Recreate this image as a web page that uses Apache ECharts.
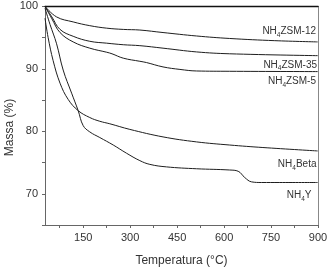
<!DOCTYPE html>
<html>
<head>
<meta charset="utf-8">
<script src="https://cdn.jsdelivr.net/npm/echarts@6/dist/echarts.min.js"></script>
<style>html,body{margin:0;padding:0;background:#fff}#c{width:332px;height:272px}</style>
</head>
<body>
<div id="c"></div>
<script>
// ---- data (temperature °C, mass %) ----
var zsm12T = [28, 65, 118, 171, 225, 278, 331, 405, 512, 618, 762, 899];
var zsm12V = [100, 98.3, 97.5, 96.9, 96.5, 96.3, 96.2, 95.8, 95.25, 94.85, 94.5, 94.3];
var zsm35T = [28, 50, 76, 118, 171, 225, 278, 331, 405, 512, 618, 899];
var zsm35V = [100, 98.3, 96.3, 95.2, 94.4, 94.1, 93.85, 93.7, 93.3, 92.7, 92.4, 92.1];
var zsm5T = [28, 50, 76, 118, 171, 225, 242, 278, 331, 352, 405, 459, 512, 618, 899];
var zsm5V = [100, 98.0, 95.8, 94.3, 93.3, 92.65, 92.4, 91.7, 91.2, 91.0, 90.3, 89.9, 89.65, 89.6, 89.55];
var betaT = [28, 38, 54, 76, 102, 134, 171, 203, 235, 299, 405, 512, 618, 724, 899];
var betaV = [98.1, 95.0, 91.3, 87.7, 85.1, 83.3, 82.2, 81.6, 81.2, 80.3, 79.1, 78.3, 77.8, 77.4, 76.85];
var yT = [28, 44, 65, 86, 113, 134, 150, 171, 203, 246, 288, 331, 363, 416, 512, 618, 645, 666, 688, 720, 778, 899];
var yV = [99.7, 97.1, 94.0, 89.8, 86.1, 83.3, 80.9, 79.9, 79.0, 77.8, 76.5, 75.3, 74.7, 74.3, 74.0, 73.8, 73.6, 72.6, 71.9, 71.8, 71.8, 71.8];
var xLabelValues = [150, 300, 450, 600, 750, 900];
var xTickValues = [75, 150, 225, 300, 375, 450, 525, 600, 675, 750, 825, 900];
var seriesNames = ['NH4ZSM-12', 'NH4ZSM-35', 'NH4ZSM-5', 'NH4Beta', 'NH4Y'];
var labelParts = [['NH', '4', 'ZSM-12'], ['NH', '4', 'ZSM-35'], ['NH', '4', 'ZSM-5'], ['NH', '4', 'Beta'], ['NH', '4', 'Y']];

function zip(t, v) { return t.map(function (x, i) { return [x, v[i]]; }); }
var allT = [zsm12T, zsm35T, zsm5T, betaT, yT];
var allV = [zsm12V, zsm35V, zsm5V, betaV, yV];

var font = '"Liberation Sans", Arial, sans-serif';
var chart = echarts.init(document.getElementById('c'), null, {renderer: 'canvas'});

var series = seriesNames.map(function (n, i) {
  return {
    name: n, type: 'line', data: zip(allT[i], allV[i]),
    showSymbol: false, smooth: 0.4,
    lineStyle: {color: '#1e1e1e', width: 1}, silent: true, animation: false
  };
});

// label positions (pixel) for annotation texts
var labelPos = [[316, 31.5], [317, 65], [316, 81.5], [316.5, 164.5], [311.5, 195.5]];
var graphics = labelParts.map(function (p, i) {
  return {
    type: 'text', x: labelPos[i][0], y: labelPos[i][1], silent: true,
    style: {
      text: '{n|' + p[0] + '}{s|' + p[1] + '}{n|' + p[2] + '}',
      align: 'right', verticalAlign: 'middle',
      rich: {
        n: {fontSize: 10, fontFamily: font, fill: '#333', lineHeight: 12},
        s: {fontSize: 6.5, fontFamily: font, fill: '#333', lineHeight: 12, padding: [7, 0, 0, 0]}
      }
    }
  };
});
graphics.push({
  type: 'text', x: 10, y: 127.5, rotation: Math.PI / 2, silent: true,
  style: {text: 'Massa (%)', fontSize: 12, fontFamily: font, fill: '#333', align: 'center', verticalAlign: 'middle'}
});

chart.setOption({
  animation: false,
  grid: {left: 45, right: 14, top: 6.3, bottom: 42.3, containLabel: false},
  xAxis: [{
    type: 'value', min: 28, max: 900,
    name: 'Temperatura (°C)', nameLocation: 'middle', nameGap: 30,
    nameTextStyle: {fontSize: 12, fontFamily: font, color: '#333'},
    axisLine: {show: true, lineStyle: {color: '#666', width: 1}},
    axisTick: {show: true, length: 3, inside: false, customValues: xTickValues, lineStyle: {color: '#666'}},
    axisLabel: {customValues: xLabelValues, fontSize: 11, fontFamily: font, color: '#333', margin: 7},
    splitLine: {show: false}
  }, {
    type: 'value', min: 28, max: 900, position: 'top',
    axisLine: {show: true, onZero: false, lineStyle: {color: '#111', width: 1.3}},
    axisTick: {show: false}, axisLabel: {show: false}, splitLine: {show: false}
  }],
  yAxis: [{
    type: 'value', min: 65, max: 100, interval: 5,
    axisLine: {show: true, lineStyle: {color: '#666', width: 1}},
    axisTick: {show: true, length: 3, lineStyle: {color: '#666'}},
    axisLabel: {fontSize: 11, fontFamily: font, color: '#333', margin: 7,
      formatter: function (v) { return v % 10 === 0 ? String(v) : ''; }},
    splitLine: {show: false}
  }, {
    type: 'value', min: 65, max: 100, position: 'right',
    axisLine: {show: true, onZero: false, lineStyle: {color: '#888', width: 1}},
    axisTick: {show: false}, axisLabel: {show: false}, splitLine: {show: false}
  }],
  series: series,
  graphic: graphics
});
</script>
</body>
</html>
